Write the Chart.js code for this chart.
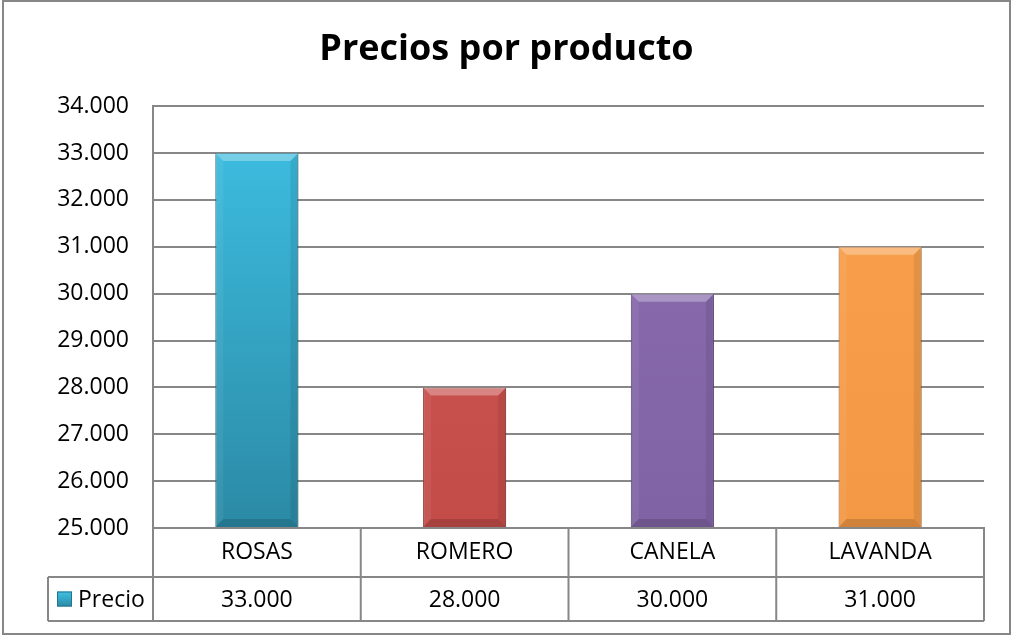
<!DOCTYPE html>
<html lang="es">
<head>
  <meta charset="UTF-8" />
  <title>Precios por producto</title>
  <script src="https://cdn.jsdelivr.net/npm/chart.js"></script>
  <style>
    body { margin: 0; background: #fff; }
    canvas { display: block; }
  </style>
</head>
<body>

<canvas id="chartPrecios" width="1013" height="636"></canvas>

<script>
  // datos
  const productos = ["ROSAS", "ROMERO", "CANELA", "LAVANDA"];
  const precios = [33000, 28000, 30000, 31000];
  const serieNombre = "Precio";
  const ejeMin = 25000;
  const ejeMax = 34000;
  const ejePaso = 1000;

  // colores de cada barra: [arriba, abajo, borde]
  const colores = [
    ["#3ec1e5", "#2b8aa5", "#22758d"],
    ["#d05754", "#c34c49", "#9c3a38"],
    ["#8b6db0", "#8063a4", "#654d85"],
    ["#fba24e", "#f39845", "#c97a33"]
  ];

  const FONT = "'Open Sans', 'DejaVu Sans', sans-serif";
  const gris = "#878787";
  const fila1 = 49;   // alto fila de categorías
  const fila2 = 44;   // alto fila de valores
  const tablaIzq = 48;

  const fmt = v => String(v).replace(/\B(?=(\d{3})+(?!\d))/g, ".");

  function relleno(ctx) {
    const area = ctx.chart.chartArea;
    if (!area) return colores[ctx.dataIndex][0];
    const c = colores[ctx.dataIndex];
    const g = ctx.chart.ctx.createLinearGradient(0, area.top, 0, area.bottom);
    g.addColorStop(0, c[0]);
    g.addColorStop(1, c[1]);
    return g;
  }

  // sombra + biselado de las barras
  const bisel = {
    id: "bisel",
    beforeDatasetsDraw(chart) {
      const c = chart.ctx;
      c.save();
      c.shadowColor = "rgba(0,0,0,0.35)";
      c.shadowBlur = 5;
      c.shadowOffsetY = 1;
    },
    afterDatasetsDraw(chart) {
      const c = chart.ctx;
      c.restore();
      const b = 8;
      const area = chart.chartArea;
      chart.getDatasetMeta(0).data.forEach(bar => {
        const l = bar.x - bar.width / 2, r = bar.x + bar.width / 2;
        const t = bar.y, btm = Math.min(bar.base, area.bottom);
        const poly = (pts, fill) => {
          c.beginPath();
          c.moveTo(pts[0][0], pts[0][1]);
          pts.slice(1).forEach(p => c.lineTo(p[0], p[1]));
          c.closePath();
          c.fillStyle = fill;
          c.fill();
        };
        c.save();
        poly([[l, t], [r, t], [r - b, t + b], [l + b, t + b]], "rgba(255,255,255,0.30)");
        poly([[l, btm], [r, btm], [r - b, btm - b], [l + b, btm - b]], "rgba(0,0,0,0.14)");
        poly([[l, t], [l + b, t + b], [l + b, btm - b], [l, btm]], "rgba(255,255,255,0.06)");
        poly([[r, t], [r - b, t + b], [r - b, btm - b], [r, btm]], "rgba(0,0,0,0.08)");
        c.restore();
      });
    }
  };

  // tabla de datos bajo el eje y marco exterior
  const tabla = {
    id: "tabla",
    afterDraw(chart) {
      const c = chart.ctx;
      const area = chart.chartArea;
      const x = chart.scales.x;
      const paso = x.width / productos.length;
      const y0 = area.bottom, y1 = y0 + fila1, y2 = y1 + fila2;
      c.save();
      c.strokeStyle = gris;
      c.lineWidth = 2;
      c.beginPath();
      // horizontales
      c.moveTo(tablaIzq, y1); c.lineTo(area.right, y1);
      c.moveTo(tablaIzq, y2); c.lineTo(area.right, y2);
      // verticales
      c.moveTo(area.left, y0); c.lineTo(area.left, y2);
      c.moveTo(tablaIzq, y1); c.lineTo(tablaIzq, y2);
      productos.forEach((p, i) => {
        const xr = x.getPixelForValue(i) + paso / 2;
        c.moveTo(xr, y0); c.lineTo(xr, y2);
      });
      c.stroke();

      // valores
      c.fillStyle = "#000";
      c.font = "23px " + FONT;
      c.textAlign = "center";
      c.textBaseline = "middle";
      precios.forEach((v, i) => {
        c.fillText(fmt(v), x.getPixelForValue(i), y1 + fila2 / 2 + 1);
      });

      // clave de la serie
      const k = 15, kx = 57, ky = y1 + fila2 / 2 - k / 2;
      const g = c.createLinearGradient(0, ky, 0, ky + k);
      g.addColorStop(0, colores[0][0]);
      g.addColorStop(1, colores[0][1]);
      c.fillStyle = g;
      c.fillRect(kx, ky, k, k);
      c.strokeStyle = colores[0][2];
      c.lineWidth = 1;
      c.strokeRect(kx + 0.5, ky + 0.5, k - 1, k - 1);
      c.fillStyle = "#000";
      c.textAlign = "left";
      c.fillText(serieNombre, kx + k + 6, y1 + fila2 / 2 + 1);

      // marco
      c.strokeStyle = gris;
      c.lineWidth = 2;
      c.strokeRect(3, 1, chart.width - 6, chart.height - 3);
      c.restore();
    }
  };

  new Chart(document.getElementById("chartPrecios"), {
    type: "bar",
    data: {
      labels: productos,
      datasets: [{
        label: serieNombre,
        data: precios,
        base: ejeMin,
        backgroundColor: relleno,
        borderColor: ctx => colores[ctx.dataIndex][2],
        borderWidth: 1,
        categoryPercentage: 0.4,
        barPercentage: 1
      }]
    },
    options: {
      responsive: false,
      animation: false,
      layout: { padding: 0 },
      plugins: {
        legend: { display: false },
        tooltip: { enabled: false },
        title: {
          display: true,
          text: "Precios por producto",
          color: "#000",
          font: { family: FONT, size: 36, weight: "bold", lineHeight: 1.2 },
          padding: { top: 28, bottom: 35 }
        }
      },
      scales: {
        y: {
          min: ejeMin,
          max: ejeMax,
          ticks: {
            stepSize: ejePaso,
            color: "#000",
            font: { family: FONT, size: 23 },
            padding: 24,
            callback: v => fmt(v)
          },
          grid: { color: gris, lineWidth: 2, drawTicks: false },
          border: { color: gris, width: 2 },
          afterFit(scale) { scale.width = 153; }
        },
        // eje vacío a la derecha, solo para dejar el margen
        margen: {
          position: "right",
          min: ejeMin,
          max: ejeMax,
          ticks: { display: false },
          grid: { display: false, drawTicks: false },
          border: { display: false },
          afterFit(scale) { scale.width = 29; }
        },
        x: {
          ticks: {
            color: "#000",
            font: { family: FONT, size: 23 },
            padding: 11
          },
          grid: { display: false, drawTicks: false },
          border: { color: gris, width: 2 },
          afterFit(scale) { scale.height = 108; }
        }
      }
    },
    plugins: [bisel, tabla]
  });
</script>

</body>
</html>
